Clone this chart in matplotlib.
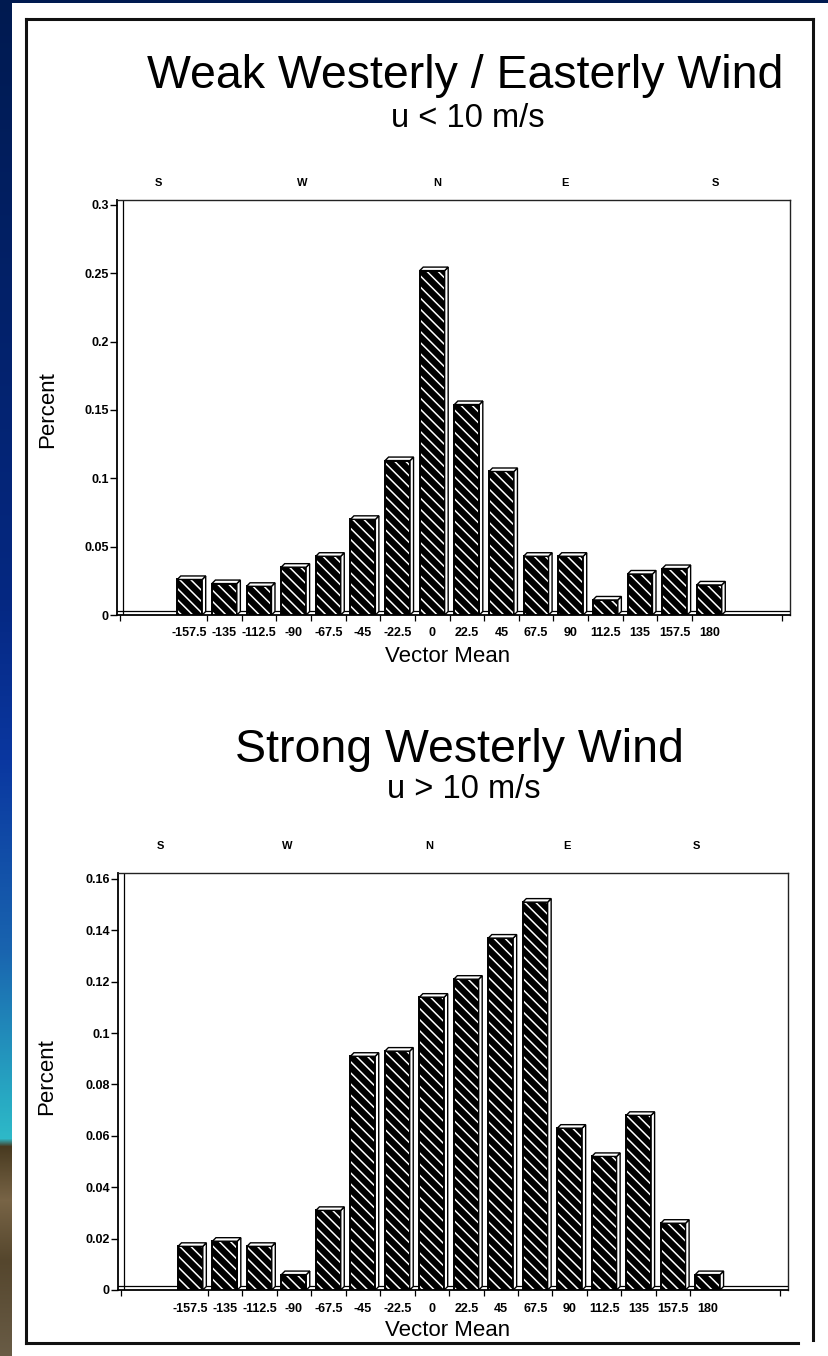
import numpy as np
import matplotlib
matplotlib.use('Agg')
import matplotlib.pyplot as plt
from matplotlib.patches import Polygon
from matplotlib.lines import Line2D

# ---------------- data ----------------
directions = [-157.5, -135, -112.5, -90, -67.5, -45, -22.5, 0,
              22.5, 45, 67.5, 90, 112.5, 135, 157.5, 180]
direction_labels = ['-157.5', '-135', '-112.5', '-90', '-67.5', '-45', '-22.5', '0',
                    '22.5', '45', '67.5', '90', '112.5', '135', '157.5', '180']
weak_pct = [0.026, 0.023, 0.021, 0.035, 0.043, 0.070, 0.113, 0.252,
            0.154, 0.105, 0.043, 0.043, 0.011, 0.030, 0.034, 0.022]
strong_pct = [0.017, 0.019, 0.017, 0.006, 0.031, 0.091, 0.093, 0.114,
              0.121, 0.137, 0.151, 0.063, 0.052, 0.068, 0.026, 0.006]
weak_yticks = [0, 0.05, 0.1, 0.15, 0.2, 0.25, 0.3]
weak_ytick_labels = ['0', '0.05', '0.1', '0.15', '0.2', '0.25', '0.3']
strong_yticks = [0, 0.02, 0.04, 0.06, 0.08, 0.1, 0.12, 0.14, 0.16]
strong_ytick_labels = ['0', '0.02', '0.04', '0.06', '0.08', '0.1', '0.12', '0.14', '0.16']
compass_labels = ['S', 'W', 'N', 'E', 'S']
weak_title = 'Weak Westerly / Easterly Wind'
weak_subtitle = 'u < 10 m/s'
strong_title = 'Strong Westerly Wind'
strong_subtitle = 'u > 10 m/s'

plt.rcParams['font.family'] = ['Liberation Sans', 'DejaVu Sans']
plt.rcParams['hatch.linewidth'] = 1.1

W, H = 829, 1356
fig = plt.figure(figsize=(W / 100, H / 100), dpi=100)
fig.patch.set_facecolor('white')


def fx(x):
    return x / W


def fy(y):
    return 1 - y / H


# ---------------- background (slide frame) ----------------
bg = np.ones((H, W, 3))
ys = np.arange(H)
stops_y = [0, 600, 760, 950, 1100, 1138, 1146, 1200, 1260, 1356]
stops_r = [0, 5, 10, 25, 40, 46, 72, 120, 85, 105]
stops_g = [26, 40, 55, 100, 170, 185, 58, 100, 70, 92]
stops_b = [80, 130, 160, 175, 195, 200, 32, 70, 45, 70]
col = np.stack([np.interp(ys, stops_y, stops_r),
                np.interp(ys, stops_y, stops_g),
                np.interp(ys, stops_y, stops_b)], axis=1) / 255.0
bg[:, :12, :] = col[:, None, :]
bg[:3, :, :] = np.array([0, 26, 80]) / 255.0
ax_bg = fig.add_axes([0, 0, 1, 1], zorder=-10)
ax_bg.imshow(bg, aspect='auto', extent=(0, W, H, 0), interpolation='nearest')
ax_bg.axis('off')

# page border
border_lw = 2.2
for (x0, y0, x1, y1) in [(26, 19, 813, 19), (26, 19, 26, 1343),
                         (26, 1343, 798, 1343), (813, 19, 813, 1340)]:
    fig.add_artist(Line2D([fx(x0), fx(x1)], [fy(y0), fy(y1)], color='#111111',
                          lw=border_lw, transform=fig.transFigure))

XLIM = (-2.1, 17.33)
BAR_W = 0.72


def draw_panel(box, values, yticks, yticklabels, ytop):
    left, top, right, bottom = box
    ax = fig.add_axes([fx(left), fy(bottom), fx(right) - fx(left), (bottom - top) / H])
    ax.set_facecolor('white')
    x = np.arange(len(values))
    ax.set_xlim(*XLIM)
    ax.set_ylim(0, ytop)
    ppu_y = (bottom - top) / ytop
    ppu_x = (right - left) / (XLIM[1] - XLIM[0])
    dx = 3.5 / ppu_x
    dy = 3.5 / ppu_y
    # double floor / wall lines (pseudo-3D frame)
    ax.plot(XLIM, [4 / ppu_y, 4 / ppu_y], color='black', lw=0.9, zorder=1)
    ax.plot([XLIM[0] + 6 / ppu_x] * 2, [0, ytop], color='black', lw=0.9, zorder=1)
    ax.bar(x, values, width=BAR_W, color='black', edgecolor='white',
           hatch='\\\\\\', linewidth=0, zorder=3)
    ax.bar(x, values, width=BAR_W, fill=False, edgecolor='black',
           linewidth=1.4, zorder=4)
    for xi, v in zip(x, values):
        xl, xr = xi - BAR_W / 2, xi + BAR_W / 2
        side = Polygon([(xr, 0), (xr + dx, dy), (xr + dx, v + dy), (xr, v)],
                       closed=True, facecolor='white', edgecolor='black', lw=1.0, zorder=4)
        topf = Polygon([(xl, v), (xl + dx, v + dy), (xr + dx, v + dy), (xr, v)],
                       closed=True, facecolor='white', edgecolor='black', lw=1.0, zorder=4)
        ax.add_patch(side)
        ax.add_patch(topf)
    for s in ['left', 'bottom']:
        ax.spines[s].set_linewidth(1.3)
    for s in ['top', 'right']:
        ax.spines[s].set_linewidth(1.0)
        ax.spines[s].set_color('#222222')
    ax.set_yticks(yticks)
    ax.set_yticklabels(yticklabels, fontsize=9, fontweight='bold')
    ax.tick_params(axis='y', direction='out', length=5, width=1.0, pad=1)
    ax.set_xticks(x)
    ax.set_xticklabels(direction_labels, fontsize=9, fontweight='bold')
    ax.tick_params(axis='x', which='major', length=0, pad=9)
    minor = [XLIM[0] + 0.1] + [i + 0.5 for i in range(len(values) - 1)] + [17.1]
    ax.set_xticks(minor, minor=True)
    ax.tick_params(axis='x', which='minor', direction='out', length=4, width=0.9)
    return ax


ax1 = draw_panel((117, 200, 790, 615), weak_pct, weak_yticks, weak_ytick_labels,
                 0.3 + 5 / 1367)
ax2 = draw_panel((118, 873, 788, 1290), strong_pct, strong_yticks, strong_ytick_labels,
                 0.16 + 6 / 2569)

# titles
fig.text(fx(465), fy(88), weak_title, fontsize=33.5, ha='center', va='baseline')
fig.text(fx(468), fy(127), weak_subtitle, fontsize=23.5, ha='center', va='baseline')
fig.text(fx(459), fy(762), strong_title, fontsize=33.5, ha='center', va='baseline')
fig.text(fx(464), fy(798), strong_subtitle, fontsize=23.5, ha='center', va='baseline')

# compass labels
for lab, xp in zip(compass_labels, [158, 302, 437, 565, 715]):
    fig.text(fx(xp), fy(183), lab, fontsize=8, fontweight='bold', ha='center', va='center')
for lab, xp in zip(compass_labels, [160, 287, 429, 567, 696]):
    fig.text(fx(xp), fy(846), lab, fontsize=8, fontweight='bold', ha='center', va='center')

# axis labels
fig.text(fx(48), fy(410), 'Percent', fontsize=16, rotation=90, ha='center', va='center')
fig.text(fx(47), fy(1077), 'Percent', fontsize=16, rotation=90, ha='center', va='center')
fig.text(fx(448), fy(657), 'Vector Mean', fontsize=16, ha='center', va='center')
fig.text(fx(448), fy(1330), 'Vector Mean', fontsize=16, ha='center', va='center')

fig.savefig('out.png', dpi=100)
